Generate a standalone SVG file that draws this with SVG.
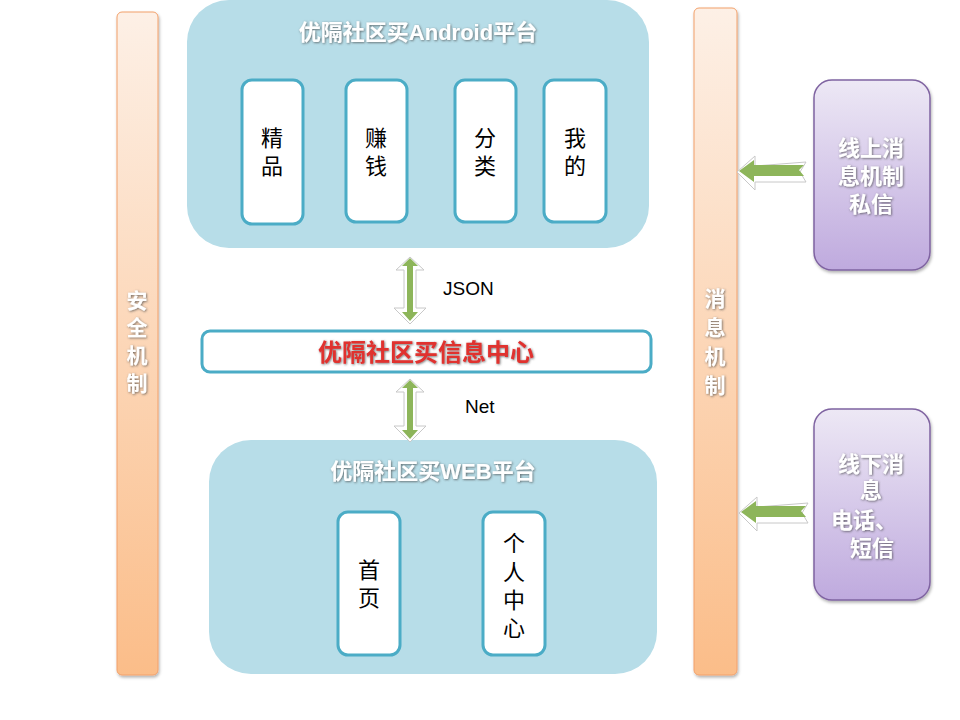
<svg xmlns="http://www.w3.org/2000/svg" width="960" height="720" viewBox="0 0 960 720">
<defs>
<linearGradient id="barGrad" x1="0" y1="0" x2="0" y2="1">
<stop offset="0" stop-color="#fdf0e6"/>
<stop offset="1" stop-color="#fbbd89"/>
</linearGradient>
<linearGradient id="purpleGrad" x1="0" y1="0" x2="0" y2="1">
<stop offset="0" stop-color="#ede8f5"/>
<stop offset="1" stop-color="#bfaade"/>
</linearGradient>
<filter id="txtShadow" x="-20%" y="-20%" width="140%" height="140%">
<feDropShadow dx="0.8" dy="0.8" stdDeviation="0.8" flood-color="#404040" flood-opacity="0.75"/>
</filter>
<filter id="boxShadow" x="-10%" y="-10%" width="120%" height="120%">
<feDropShadow dx="1" dy="2" stdDeviation="1.5" flood-color="#000" flood-opacity="0.3"/>
</filter>
<style>
.bar{fill:url(#barGrad);stroke:#f2a06a;stroke-width:1}
.platform{fill:#b7dde8}
.item{fill:#fff;stroke:#4bacc6;stroke-width:3}
.itemTxt{font-family:"Liberation Sans","Noto Sans CJK SC",sans-serif;font-size:22px;fill:#000;text-anchor:middle}
.title{font-family:"Liberation Sans","Noto Sans CJK SC",sans-serif;font-size:22px;font-weight:bold;fill:#fff;text-anchor:middle;filter:url(#txtShadow)}
.vtxt{font-family:"Liberation Sans","Noto Sans CJK SC",sans-serif;font-size:21px;font-weight:bold;fill:#fff;text-anchor:middle;filter:url(#txtShadow)}
.purple{fill:url(#purpleGrad);stroke:#7f63a1;stroke-width:1.5}
.ptxt{font-family:"Liberation Sans","Noto Sans CJK SC",sans-serif;font-size:22px;font-weight:bold;fill:#fff;text-anchor:middle;filter:url(#txtShadow)}
.lbl{font-family:"Liberation Sans","Noto Sans",sans-serif;font-size:19px;fill:#000}
.arrow{fill:#8db55a}
.refl{fill:#fff;stroke:#c8c8c8;stroke-width:1}
</style>
</defs>
<rect width="960" height="720" fill="#fff"/>

<g id="security">
<rect class="bar" x="117" y="12" width="41" height="663" rx="5" filter="url(#boxShadow)"/>
<text class="vtxt"><tspan x="137" y="308">安</tspan><tspan x="137" y="335">全</tspan><tspan x="137" y="363">机</tspan><tspan x="137" y="391">制</tspan></text>
</g>

<g id="message">
<rect class="bar" x="694" y="8" width="43" height="667" rx="5" filter="url(#boxShadow)"/>
<text class="vtxt"><tspan x="715" y="306">消</tspan><tspan x="715" y="335">息</tspan><tspan x="715" y="364">机</tspan><tspan x="715" y="393">制</tspan></text>
</g>

<g id="android">
<rect class="platform" x="187" y="0" width="462" height="248" rx="42"/>
<text class="title" x="418" y="40">优隔社区买Android平台</text>
<rect class="item" x="242" y="80" width="61" height="144" rx="10"/>
<text class="itemTxt"><tspan x="272" y="146">精</tspan><tspan x="272" y="174">品</tspan></text>
<rect class="item" x="346" y="80" width="61" height="142" rx="10"/>
<text class="itemTxt"><tspan x="376" y="146">赚</tspan><tspan x="376" y="174">钱</tspan></text>
<rect class="item" x="455" y="80" width="61" height="142" rx="10"/>
<text class="itemTxt"><tspan x="485" y="146">分</tspan><tspan x="485" y="174">类</tspan></text>
<rect class="item" x="544" y="80" width="62" height="142" rx="10"/>
<text class="itemTxt"><tspan x="575" y="146">我</tspan><tspan x="575" y="174">的</tspan></text>
</g>

<g id="center">
<rect x="202" y="331" width="449" height="41" rx="8" fill="#fff" stroke="#4bacc6" stroke-width="3"/>
<text x="426" y="361" font-family="Liberation Sans,Noto Sans CJK SC,sans-serif" font-size="24" font-weight="bold" fill="#e0302e" text-anchor="middle" filter="url(#txtShadow)">优隔社区买信息中心</text>
</g>

<g id="web">
<rect class="platform" x="209" y="440" width="448" height="234" rx="42"/>
<text class="title" x="433" y="479">优隔社区买WEB平台</text>
<rect class="item" x="338" y="512" width="62" height="143" rx="10"/>
<text class="itemTxt"><tspan x="369" y="578">首</tspan><tspan x="369" y="606">页</tspan></text>
<rect class="item" x="483" y="512" width="62" height="143" rx="10"/>
<text class="itemTxt"><tspan x="514" y="551">个</tspan><tspan x="514" y="580">人</tspan><tspan x="514" y="608">中</tspan><tspan x="514" y="636">心</tspan></text>
</g>

<g id="online">
<rect class="purple" x="814" y="80" width="116" height="190" rx="18" filter="url(#boxShadow)"/>
<text class="ptxt"><tspan x="871" y="156">线上消</tspan><tspan x="871" y="184">息机制</tspan><tspan x="871" y="212">私信</tspan></text>
</g>

<g id="offline">
<rect class="purple" x="814" y="409" width="116" height="191" rx="18" filter="url(#boxShadow)"/>
<text class="ptxt"><tspan x="871" y="472">线下消</tspan><tspan x="871" y="498">息</tspan><tspan x="864" y="528">电话、</tspan><tspan x="872" y="556">短信</tspan></text>
</g>

<g id="connectors">
<path class="refl" d="M410,257 L424,270 L416,270 L416,308 L426,308 L410,324 L394,308 L404,308 L404,270 L396,270 Z"/>
<path class="arrow" d="M410,258 L418,266 L413,266 L413,312 L418,312 L410,321 L402,312 L407,312 L407,266 L402,266 Z"/>
<path class="refl" d="M410,379 L424,392 L416,392 L416,426 L426,426 L410,442 L394,426 L404,426 L404,392 L396,392 Z"/>
<path class="arrow" d="M410,380 L418,388 L413,388 L413,430 L418,430 L410,439 L402,430 L407,430 L407,388 L402,388 Z"/>
<path class="refl" d="M737,172 L755,156 L755,166 L806,162 L800,172 L806,182 L755,182 L755,190 Z"/>
<path class="arrow" d="M739,171 L754,160 L754,165 L804,165 L799,170 L804,176 L754,176 L754,182 Z"/>
<path class="refl" d="M739,513 L757,497 L757,507 L808,503 L802,513 L808,523 L757,523 L757,531 Z"/>
<path class="arrow" d="M741,512 L756,501 L756,506 L806,506 L801,511 L806,517 L756,517 L756,523 Z"/>
<text class="lbl" x="443" y="295">JSON</text>
<text class="lbl" x="465" y="413">Net</text>
</g>
</svg>
